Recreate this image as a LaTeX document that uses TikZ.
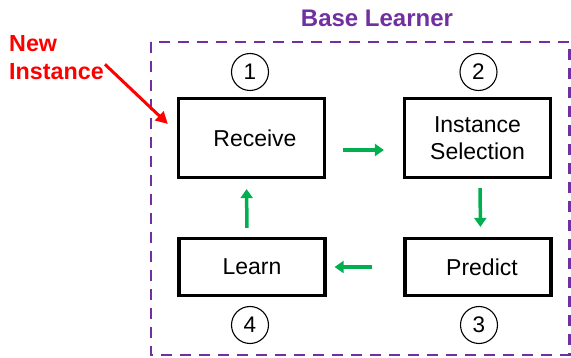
\documentclass[tikz,border=0pt]{standalone}
\usepackage{fontspec}
\setmainfont{Liberation Sans}
\usetikzlibrary{arrows.meta}
\definecolor{bpurple}{HTML}{7030A0}
\definecolor{bgreen}{HTML}{00B050}
\definecolor{bred}{HTML}{FF0000}
\tikzset{
  stepbox/.style={draw=black, line width=3.2pt, minimum width=146pt, inner sep=0pt, align=center, font=\fontsize{23}{27.5}\selectfont},
  numcirc/.style={draw=black, circle, line width=1.1pt, minimum size=37pt, inner sep=0pt, font=\fontsize{22.5}{24}\selectfont},
  garrow/.style={draw=bgreen, line width=3.5pt, -{Triangle[length=9pt,width=12pt]}},
  rarrow/.style={draw=bred, line width=3pt, -{Triangle[length=12pt,width=12pt]}},
}
\begin{document}
\begin{tikzpicture}[x=1pt,y=-1pt]
\useasboundingbox (0,0) rectangle (571,358);
% outer dashed box
\draw[bpurple, line width=2.2pt, dash pattern=on 11pt off 8pt] (151,42) rectangle (569.5,355);
\node[text=bpurple, font=\bfseries\fontsize{24}{28}\selectfont] (title) at (377,18) {Base Learner};
% boxes
\node[stepbox, minimum height=79pt] (receive) at (251.5,138) {\hspace{7pt}Receive};
\node[stepbox, minimum height=79pt] (select) at (477.5,138) {Instance\\Selection};
\node[stepbox, minimum height=57pt] (learn) at (252,267) {Learn};
\node[stepbox, minimum height=57pt] (predict) at (478,267) {\hspace{8pt}Predict};
% numbers
\node[numcirc] (n1) at (250,72) {1};
\node[numcirc] (n2) at (478.5,72) {2};
\node[numcirc] (n3) at (479,325) {3};
\node[numcirc] (n4) at (250,325) {4};
% green arrows
\draw[garrow, shorten <=17pt, shorten >=19pt] ([yshift=-12pt]receive.east) -- ([yshift=-12pt]select.west);
\draw[garrow, shorten <=9pt, shorten >=10pt] ([xshift=2.5pt]select.south) -- ([xshift=2.5pt]predict.north);
\draw[garrow, shorten <=31pt, shorten >=8pt] (predict.west) -- (learn.east);
\draw[garrow, shorten <=9pt, shorten >=10pt] ([xshift=-5pt]learn.north) -- ([xshift=-5pt]receive.south);
% new instance
\node[text=bred, font=\bfseries\fontsize{23.3}{28}\selectfont, align=left, inner sep=0pt, anchor=north west] (newinst) at (9,35) {New\\Instance};
\draw[rarrow] ([xshift=1pt,yshift=-7pt]newinst.east) -- ([xshift=-9pt,yshift=14pt]receive.west);
\end{tikzpicture}
\end{document}
